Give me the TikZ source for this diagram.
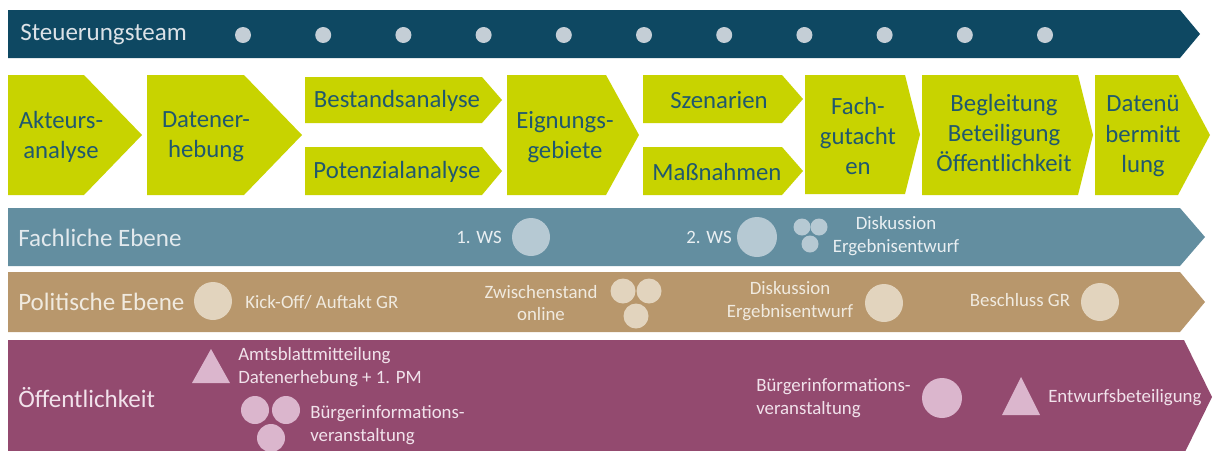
\documentclass[tikz,border=0pt]{standalone}
\usepackage{fontspec}
\setmainfont{Carlito}
\usetikzlibrary{calc}

\definecolor{teamblue}{RGB}{14,72,98}
\definecolor{teamdot}{RGB}{196,206,214}
\definecolor{steplime}{RGB}{200,211,0}
\definecolor{steptext}{RGB}{32,88,110}
\definecolor{fachblue}{RGB}{99,142,160}
\definecolor{fachdot}{RGB}{182,201,211}
\definecolor{politan}{RGB}{184,151,108}
\definecolor{polidot}{RGB}{226,212,190}
\definecolor{publicplum}{RGB}{147,74,111}
\definecolor{publicdot}{RGB}{219,182,205}

\tikzset{
	bandlabel/.style={anchor=west, inner sep=0pt, font=\fontsize{17.8}{21}\selectfont},
	steplabel/.style={align=center, inner sep=0pt, text=steptext, font=\fontsize{17.6}{21.5}\selectfont},
	eventlabel/.style={inner sep=0pt, font=\fontsize{13.4}{16.2}\selectfont},
}

\begin{document}
\begin{tikzpicture}[x=0.025cm, y=-0.025cm]

	% ---- page

	\useasboundingbox (0,0) rectangle (1218,450);
	\clip (0,0) rectangle (1218,450);

	% ---- bands

	\fill[teamblue] (8,10) -- (1180,10) -- (1200,34) -- (1180,58) -- (8,58) -- cycle;
	\fill[fachblue] (8,208) -- (1180,208) -- (1205,237) -- (1180,266) -- (8,266) -- cycle;
	\fill[politan] (8,272) -- (1180,272) -- (1205,302) -- (1180,332) -- (8,332) -- cycle;
	\fill[publicplum] (8,340) -- (1184,340) -- (1212,397) -- (1184,454) -- (8,454) -- cycle;

	% ---- process steps

	\foreach \xa/\xb/\ya/\yb/\d in {8/142/75/195/58, 147/302/75/195/58,
		305/502/77/123/20, 305/502/147/195/20, 507/639/75/195/33,
		643/803/75/123/21, 643/803/147/195/21, 805/920/75/194/15,
		922/1093/75/195/15, 1095/1210/75/195/32} {
		\fill[steplime] (\xa,\ya) -- ({\xb-\d},\ya) -- (\xb,{(\ya+\yb)/2})
			-- ({\xb-\d},\yb) -- (\xa,\yb) -- cycle;
	}

	% ---- steuerungsteam

	\node[bandlabel, text=teamdot!60!white] (team) at (20,35) {Steuerungsteam};
	\foreach \i in {0,...,10} { \fill[teamdot] ({243+80.2*\i},35) circle[radius=8]; }

	% ---- step labels

	\node[steplabel] (akteurs) at (61,137) {Akteurs-\\analyse};
	\node[steplabel] (daten) at (206,137) {Datener-\\hebung};
	\node[steplabel] (bestand) at (397,101) {Bestandsanalyse};
	\node[steplabel] (potenzial) at (397,172) {Potenzialanalyse};
	\node[steplabel] (eignung) at (565,137) {Eignungs-\\gebiete};
	\node[steplabel] (szenarien) at (719,100) {Szenarien};
	\node[steplabel] (massnahmen) at (717,172) {Maßnahmen};
	\node[steplabel] (gutachten) at (858,136) {Fach-\\gutacht\\en};
	\node[steplabel] (begleitung) at (1004,133) {Begleitung\\Beteiligung\\Öffentlichkeit};
	\node[steplabel] (uebermittlung) at (1143,136) {Datenü\\bermitt\\lung};

	% ---- fachliche ebene

	\node[bandlabel, text=fachdot!40!white] (fach) at (18,238) {Fachliche Ebene};
	\node[eventlabel, text=fachdot!30!white] (ws1) at (479,237) {1. WS};
	\fill[fachdot] (531,237) circle[radius=19];
	\node[eventlabel, text=fachdot!30!white] (ws2) at (709,237) {2. WS};
	\fill[fachdot] (757,237) circle[radius=20];
	\foreach \p in {(802,227), (819,227), (810,244)} { \fill[fachdot] \p circle[radius=8.5]; }
	\node[eventlabel, align=center, text=fachdot!30!white] (fachdisk) at (896,236) {Diskussion\\Ergebnisentwurf};

	% ---- politische ebene

	\node[bandlabel, text=polidot!50!white] (polit) at (18,302) {Politische Ebene};
	\fill[polidot] (213,301) circle[radius=19];
	\node[eventlabel, anchor=west, text=polidot!50!white] (kickoff) at (245,302) {Kick-Off/ Auftakt GR};
	\node[eventlabel, align=center, text=polidot!50!white] (zwischen) at (541,303) {Zwischenstand\\online};
	\foreach \p in {(623,291), (649,291), (636,316)} { \fill[polidot] \p circle[radius=12.5]; }
	\node[eventlabel, align=center, text=polidot!50!white] (politdisk) at (790,301) {Diskussion\\Ergebnisentwurf};
	\fill[polidot] (884,303) circle[radius=19];
	\node[eventlabel, text=polidot!50!white] (beschluss) at (1020,300) {Beschluss GR};
	\fill[polidot] (1100,302) circle[radius=19];

	% ---- oeffentlichkeit

	\node[bandlabel, text=publicdot!40!white] (public) at (18,398) {Öffentlichkeit};
	\fill[publicdot] (211,349) -- (230,383) -- (192,383) -- cycle;
	\node[eventlabel, anchor=west, align=left, text=publicdot!40!white] (amtsblatt) at (238,367)
		{Amtsblattmitteilung\\Datenerhebung + 1. PM};
	\foreach \p in {(255,410), (286,410), (271,438)} { \fill[publicdot] \p circle[radius=14]; }
	\node[eventlabel, anchor=west, align=left, text=publicdot!40!white] (buerger1) at (310,425)
		{Bürgerinformations-\\veranstaltung};
	\node[eventlabel, anchor=west, align=left, text=publicdot!40!white] (buerger2) at (756,398)
		{Bürgerinformations-\\veranstaltung};
	\fill[publicdot] (942,398) circle[radius=20];
	\fill[publicdot] (1021,377) -- (1040,415) -- (1002,415) -- cycle;
	\node[eventlabel, anchor=west, text=publicdot!40!white] (entwurf) at (1048,398) {Entwurfsbeteiligung};

\end{tikzpicture}
\end{document}
